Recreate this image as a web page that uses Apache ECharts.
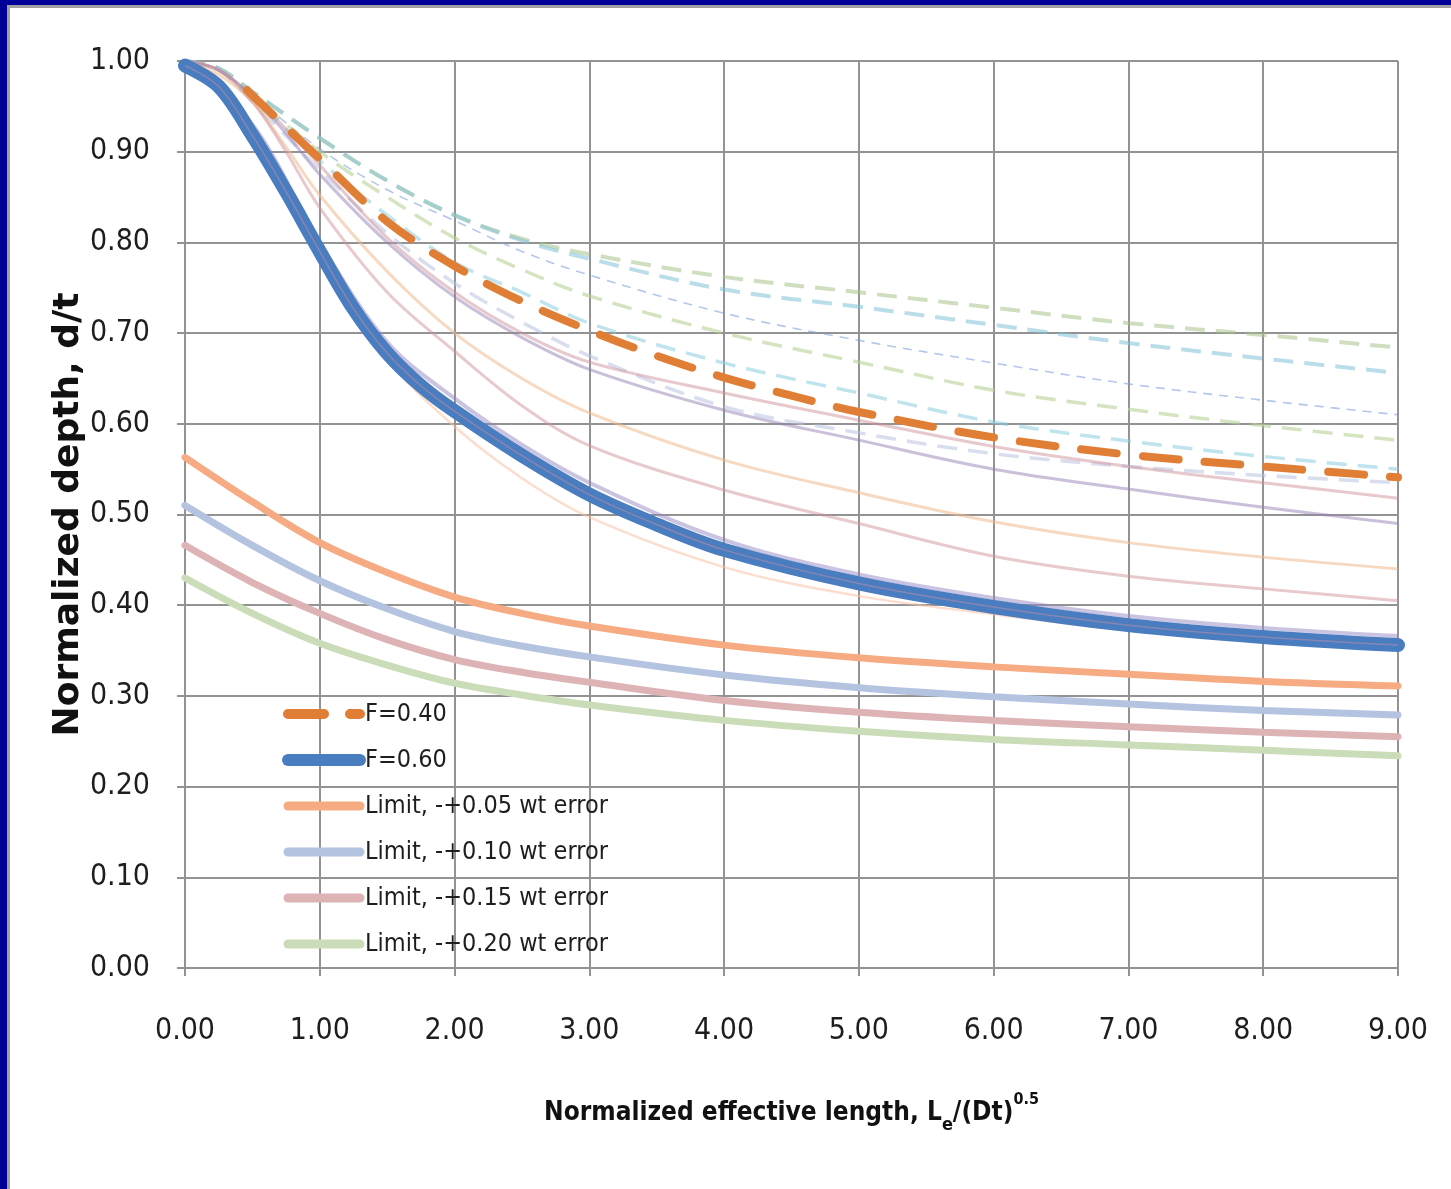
<!DOCTYPE html>
<html>
<head>
<meta charset="utf-8">
<script src="https://cdn.jsdelivr.net/npm/echarts@6/dist/echarts.min.js"></script>
<style>
  html, body { margin: 0; padding: 0; background: #fff; }
  #wrap { position: relative; width: 1451px; height: 1189px; overflow: hidden; }
  #chart { position: absolute; left: 0; top: 0; width: 1451px; height: 1189px; }
  .b { position: absolute; }
</style>
</head>
<body>
<div id="wrap">
  <div id="chart"></div>
  <div class="b" style="left:0;top:0;width:1451px;height:5px;background:#000099"></div>
  <div class="b" style="left:0;top:5px;width:1451px;height:3px;background:#a0a0a0"></div>
  <div class="b" style="left:0;top:0;width:7px;height:1189px;background:#000099"></div>
  <div class="b" style="left:7px;top:5px;width:3px;height:1184px;background:#a0a0a0"></div>
</div>
<script>
// ---------- tick labels ----------
const xTicks = ['0.00','1.00','2.00','3.00','4.00','5.00','6.00','7.00','8.00','9.00'];
const yTicks = ['0.00','0.10','0.20','0.30','0.40','0.50','0.60','0.70','0.80','0.90','1.00'];

// ---------- legend series ----------
const xF40 = [0.46, 0.5, 1, 1.5, 2, 2.5, 3, 3.5, 4, 4.5, 5, 6, 7, 8, 9];
const f40  = [0.968, 0.962, 0.892, 0.823, 0.774, 0.735, 0.703, 0.675, 0.651, 0.631, 0.613, 0.585, 0.566, 0.553, 0.541];

const xF60 = [0, 0.25, 0.5, 0.75, 1, 1.25, 1.5, 1.75, 2, 2.5, 3, 3.5, 4, 5, 6, 7, 8, 9];
const f60  = [0.995, 0.972, 0.918, 0.856, 0.79, 0.727, 0.678, 0.642, 0.614, 0.565, 0.522, 0.489, 0.461, 0.424, 0.398, 0.378, 0.365, 0.356];

const xLim = [0, 0.5, 1, 1.5, 2, 2.5, 3, 4, 5, 6, 7, 8, 9];
const lim05 = [0.563, 0.514, 0.469, 0.436, 0.409, 0.391, 0.377, 0.356, 0.342, 0.332, 0.324, 0.316, 0.311];
const lim10 = [0.510, 0.466, 0.427, 0.396, 0.371, 0.355, 0.343, 0.323, 0.309, 0.299, 0.291, 0.284, 0.279];
const lim15 = [0.466, 0.425, 0.391, 0.362, 0.340, 0.326, 0.315, 0.295, 0.282, 0.273, 0.266, 0.260, 0.255];
const lim20 = [0.430, 0.391, 0.358, 0.334, 0.314, 0.301, 0.290, 0.273, 0.261, 0.252, 0.246, 0.240, 0.234];

// ---------- faint background curves (not in legend) ----------
const xDash = [0, 0.25, 0.5, 1, 1.5, 2, 2.5, 3, 4, 5, 6, 7, 8, 9];
const dashGreenTop  = [1.0, 0.992, 0.966, 0.915, 0.868, 0.83, 0.804, 0.787, 0.762, 0.745, 0.728, 0.711, 0.698, 0.684];
const dashBlueTop   = [1.0, 0.992, 0.966, 0.915, 0.868, 0.83, 0.802, 0.782, 0.748, 0.729, 0.709, 0.689, 0.672, 0.656];
const dashThinBlue  = [1.0, 0.99, 0.962, 0.903, 0.858, 0.824, 0.79, 0.764, 0.722, 0.692, 0.667, 0.644, 0.626, 0.61];
const dashGreenLow  = [1.0, 0.99, 0.962, 0.9, 0.85, 0.805, 0.77, 0.741, 0.70, 0.668, 0.637, 0.616, 0.598, 0.582];
const dashBlueLow   = [1.0, 0.99, 0.96, 0.89, 0.83, 0.778, 0.745, 0.711, 0.667, 0.634, 0.602, 0.581, 0.564, 0.55];
const dashGrayLow   = [1.0, 0.99, 0.955, 0.88, 0.81, 0.755, 0.712, 0.675, 0.619, 0.59, 0.567, 0.553, 0.543, 0.535];

const xSolid = [0, 0.25, 0.5, 0.75, 1, 1.5, 2, 2.5, 3, 4, 5, 6, 7, 8, 9];
const solidPink   = [1.0, 0.99, 0.962, 0.925, 0.885, 0.805, 0.745, 0.70, 0.668, 0.634, 0.604, 0.575, 0.553, 0.535, 0.518];
const solidPurple = [1.0, 0.99, 0.96, 0.92, 0.875, 0.80, 0.74, 0.695, 0.66, 0.615, 0.582, 0.55, 0.528, 0.508, 0.49];
const solidTan    = [1.0, 0.985, 0.955, 0.905, 0.852, 0.768, 0.70, 0.65, 0.612, 0.56, 0.524, 0.492, 0.469, 0.453, 0.44];
const solidRose   = [1.0, 0.99, 0.955, 0.9, 0.838, 0.745, 0.68, 0.62, 0.576, 0.527, 0.49, 0.454, 0.432, 0.418, 0.405];
const solidPeach  = [0.995, 0.97, 0.918, 0.856, 0.79, 0.672, 0.597, 0.54, 0.497, 0.442, 0.41, 0.39, 0.372, 0.36, 0.352];
const xBand = [0, 0.5, 1, 1.5, 2, 2.5, 3, 4, 5, 6, 7, 8, 9];
const bandPurple  = [0.998, 0.93, 0.80, 0.69, 0.628, 0.577, 0.535, 0.472, 0.434, 0.408, 0.388, 0.375, 0.366];

function pts(xs, ys) { return xs.map((x, i) => [x, ys[i]]); }

const COND = '"DejaVu Sans Condensed", "Liberation Sans Narrow", sans-serif';

function faint(name, xs, ys, color, width, type) {
  return {
    name: name, type: 'line', data: pts(xs, ys), smooth: 0.35, showSymbol: false, symbol: 'none',
    silent: true, z: 2,
    lineStyle: { color: color, width: width, type: type || 'solid', cap: 'butt' }
  };
}

function mainLine(name, xs, ys, color, width, z, type) {
  return {
    name: name, type: 'line', data: pts(xs, ys), smooth: 0.35,
    showSymbol: false, symbol: 'none', z: z,
    itemStyle: { color: color },
    lineStyle: { color: color, width: width, type: type || 'solid', cap: 'round' }
  };
}

const series = [
  faint('bgA1', xDash, dashGreenTop, 'rgba(170,195,140,0.55)', 4, [20, 11]),
  faint('bgA2', xDash, dashBlueTop, 'rgba(130,195,215,0.55)', 4, [20, 11]),
  faint('bgB', xDash, dashThinBlue, 'rgba(130,160,220,0.6)', 1.6, [9, 7]),
  faint('bgC', xDash, dashGreenLow, 'rgba(185,210,150,0.6)', 3.5, [20, 11]),
  faint('bgD', xDash, dashBlueLow, 'rgba(140,205,222,0.55)', 3.5, [20, 11]),
  faint('bgF', xDash, dashGrayLow, 'rgba(185,195,225,0.55)', 3.5, [20, 11]),
  faint('bgG', xSolid, solidPink, 'rgba(205,145,155,0.5)', 3),
  faint('bgH', xSolid, solidPurple, 'rgba(150,130,180,0.5)', 3),
  faint('bgI', xSolid, solidTan, 'rgba(238,185,140,0.55)', 3),
  faint('bgJ', xSolid, solidRose, 'rgba(210,150,155,0.5)', 3),
  faint('bgK', xSolid, solidPeach, 'rgba(250,195,165,0.55)', 2.5),
  faint('bgL', xBand, bandPurple, 'rgba(150,135,195,0.5)', 4),
  mainLine('Limit, -+0.05 wt error', xLim, lim05, '#F6AB82', 7, 3),
  mainLine('Limit, -+0.10 wt error', xLim, lim10, '#B3C3E0', 7, 3),
  mainLine('Limit, -+0.15 wt error', xLim, lim15, '#DDB3B5', 7, 3),
  mainLine('Limit, -+0.20 wt error', xLim, lim20, '#CADDB8', 7, 3),
  mainLine('F=0.60', xF60, f60, '#4A7DC0', 14, 4),
  faint('bgM', xF60, f60, 'rgba(185,140,165,0.55)', 1.5),
  mainLine('F=0.40', xF40, f40, '#E17E35', 8, 5, [36, 26])
];
series[17].z = 4;

const legendNames = ['F=0.40', 'F=0.60', 'Limit, -+0.05 wt error', 'Limit, -+0.10 wt error', 'Limit, -+0.15 wt error', 'Limit, -+0.20 wt error'];
const legendWidths = [10, 12, 9, 9, 9, 9];

const chart = echarts.init(document.getElementById('chart'), null, { renderer: 'canvas' });
chart.setOption({
  animation: false,
  backgroundColor: '#ffffff',
  grid: { left: 185, right: 53, top: 61, bottom: 221, containLabel: false },
  legend: {
    orient: 'vertical', left: 282, top: 699, padding: 0,
    itemWidth: 72, itemHeight: 14, itemGap: 16,
    data: legendNames.map((n, i) => ({
      name: n,
      itemStyle: { opacity: 0 },
      lineStyle: { width: legendWidths[i], cap: 'round' }
    })),
    textStyle: { fontFamily: COND, fontSize: 25, color: '#1e1e1e', lineHeight: 30 },
    selectedMode: false
  },
  xAxis: {
    type: 'value', min: 0, max: 9, interval: 1,
    name: '{a|Normalized effective length, L}{sub|e}{a|/(Dt)}{sup|0.5}',
    nameLocation: 'middle', nameGap: 124, nameMoveOverlap: false,
    nameTextStyle: {
      rich: {
        a: { fontFamily: COND, fontSize: 26, fontWeight: 'bold', color: '#111', verticalAlign: 'bottom', lineHeight: 34 },
        sub: { fontFamily: COND, fontSize: 18, fontWeight: 'bold', color: '#111', verticalAlign: 'bottom', lineHeight: 28, padding: [0, 0, -8, 0] },
        sup: { fontFamily: COND, fontSize: 16, fontWeight: 'bold', color: '#111', verticalAlign: 'top', lineHeight: 34, padding: [0, 0, 10, 0] }
      }
    },
    axisLine: { show: true, lineStyle: { color: '#939393', width: 2 } },
    axisTick: { show: true, length: 8, lineStyle: { color: '#939393', width: 2 } },
    splitLine: { show: true, lineStyle: { color: '#939393', width: 2 } },
    axisLabel: {
      fontFamily: COND, fontSize: 30, color: '#1e1e1e', margin: 48,
      formatter: (v) => xTicks[Math.round(v)]
    }
  },
  yAxis: {
    type: 'value', min: 0, max: 1, interval: 0.1,
    name: 'Normalized depth, d/t',
    nameLocation: 'middle', nameGap: 98, nameMoveOverlap: false,
    nameTextStyle: { fontFamily: '"DejaVu Sans", Verdana, sans-serif', fontSize: 36, fontWeight: 'bold', color: '#111' },
    axisLine: { show: true, lineStyle: { color: '#939393', width: 2 } },
    axisTick: { show: true, length: 8, lineStyle: { color: '#939393', width: 2 } },
    splitLine: { show: true, lineStyle: { color: '#939393', width: 2 } },
    axisLabel: {
      fontFamily: COND, fontSize: 30, color: '#1e1e1e', margin: 35,
      formatter: (v) => yTicks[Math.round(v * 10)]
    }
  },
  series: series
});
</script>
</body>
</html>
